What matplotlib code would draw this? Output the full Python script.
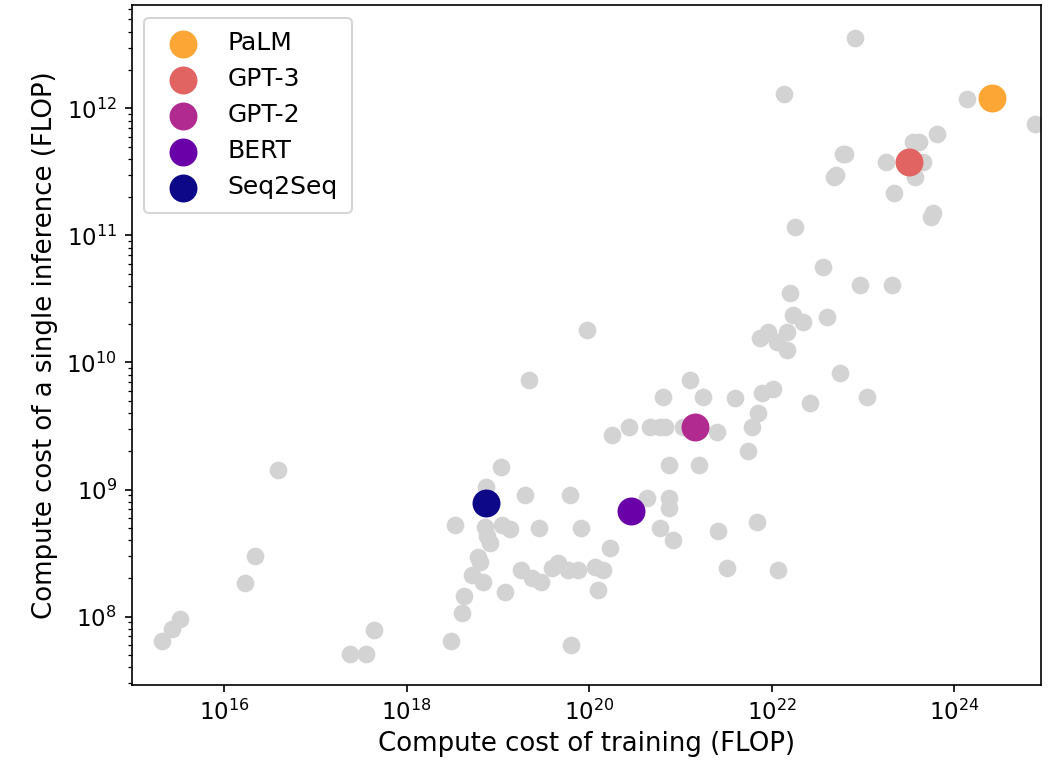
import numpy as np
import matplotlib
matplotlib.use('Agg')
import matplotlib.pyplot as plt

matplotlib.rcParams['font.size'] = 11

# other models (grey): training compute vs single inference compute, FLOP
train_other = [
    2.1e15, 2.7e15, 3.3e15, 1.7e16, 2.2e16, 3.9e16, 2.4e17, 3.6e17, 4.4e17,
    3.1e18, 3.4e18, 4.0e18, 4.3e18, 5.2e18, 6.9e18, 6.1e18, 6.4e18, 7.2e18,
    1.1e19, 1.36e19, 7.6e18, 8.2e18, 7.4e18, 1.08e19, 1.2e19, 1.8e19, 2.36e19,
    3.0e19, 3.9e19, 4.55e19, 5.9e19, 7.5e19, 1.16e20, 1.42e20, 1.25e20, 2.0e19,
    6.2e19, 2.8e19, 8.1e19, 1.7e20, 6.3e19, 2.2e19, 9.5e19, 1.8e20, 2.7e20,
    4.6e20, 6.0e20, 6.8e20, 1.06e21, 2.5e21, 1.27e21, 6.4e20, 1.77e21, 4.0e21,
    7.5e20, 1.6e21, 4.3e20, 7.5e20, 7.5e20, 6.0e20, 8.3e20, 2.6e21, 6.9e21,
    3.2e21, 1.17e22, 6.1e21, 7.1e21, 5.5e21, 7.8e21, 1.03e22, 2.6e22, 5.6e22,
    1.1e23, 7.4e21, 9.1e21, 1.14e22, 1.47e22, 1.47e22, 1.7e22, 2.2e22, 4.0e22,
    1.6e22, 3.6e22, 9.3e22, 2.1e23, 1.8e22, 4.8e22, 5.0e22, 6.0e22, 6.3e22,
    1.36e22, 8.2e22, 1.8e23, 4.5e23, 3.7e23, 3.5e23, 4.1e23, 6.5e23, 2.2e23,
    5.5e23, 5.8e23, 1.37e24, 7.6e24,
]
infer_other = [
    6.4e7, 8.0e7, 9.6e7, 1.85e8, 3.0e8, 1.43e9, 5.1e7, 5.1e7, 7.8e7,
    6.4e7, 5.3e8, 1.07e8, 1.46e8, 2.14e8, 1.88e8, 2.96e8, 2.7e8, 5.1e8,
    5.3e8, 4.9e8, 4.3e8, 3.8e8, 1.05e9, 1.5e9, 1.55e8, 2.34e8, 2.0e8,
    1.88e8, 2.43e8, 2.66e8, 2.34e8, 2.34e8, 2.47e8, 2.34e8, 1.63e8, 9.1e8,
    9.1e8, 5.0e8, 5.0e8, 3.5e8, 6.0e7, 7.3e9, 1.8e10, 2.7e9, 3.1e9,
    3.1e9, 3.1e9, 3.1e9, 3.1e9, 2.84e9, 7.3e9, 5.4e9, 5.4e9, 5.3e9,
    1.57e9, 1.57e9, 8.6e8, 8.6e8, 7.1e8, 5.0e8, 4.0e8, 4.7e8, 5.6e8,
    2.43e8, 2.34e8, 3.1e9, 4.0e9, 2.0e9, 5.75e9, 6.2e9, 4.8e9, 8.3e9,
    5.4e9, 1.56e10, 1.74e10, 1.45e10, 1.74e10, 1.25e10, 2.36e10, 2.1e10, 2.3e10,
    3.5e10, 5.6e10, 4.1e10, 4.1e10, 1.16e11, 2.9e11, 3.0e11, 4.4e11, 4.35e11,
    1.3e12, 3.6e12, 3.8e11, 3.8e11, 2.9e11, 5.4e11, 5.4e11, 6.25e11, 2.15e11,
    1.39e11, 1.5e11, 1.18e12, 7.5e11,
]

# highlighted models
names = ['PaLM', 'GPT-3', 'GPT-2', 'BERT', 'Seq2Seq']
train_hl = [2.6e24, 3.2e23, 1.44e21, 2.9e20, 7.4e18]
infer_hl = [1.2e12, 3.8e11, 3.1e9, 6.8e8, 7.9e8]

colors = plt.cm.plasma([0.8, 0.6, 0.4, 0.2, 0.0])

fig = plt.figure(figsize=(1048/150, 767/150), dpi=150)
ax = fig.add_axes([131.5/1048, 1-685/767, (1041-131.5)/1048, (685-5)/767])

ax.scatter(train_other, infer_other, s=72, color='lightgrey', linewidths=0)
for n, x, y, c in zip(names, train_hl, infer_hl, colors):
    ax.scatter([x], [y], s=180, color=c, linewidths=0, label=n)

ax.set_xscale('log')
ax.set_yscale('log')
ax.set_xlim(9.7e14, 8.9e24)
ax.set_ylim(2.9e7, 6.5e12)
ax.set_xlabel('Compute cost of training (FLOP)', fontsize=12.5, labelpad=3)
ax.set_ylabel('Compute cost of a single inference (FLOP)', fontsize=12.5, labelpad=4)
ax.legend(loc='upper left', fontsize=12, labelspacing=0.48, handletextpad=0.8,
          borderpad=0.55, borderaxespad=0.5)

fig.savefig('out.png', dpi=150)
